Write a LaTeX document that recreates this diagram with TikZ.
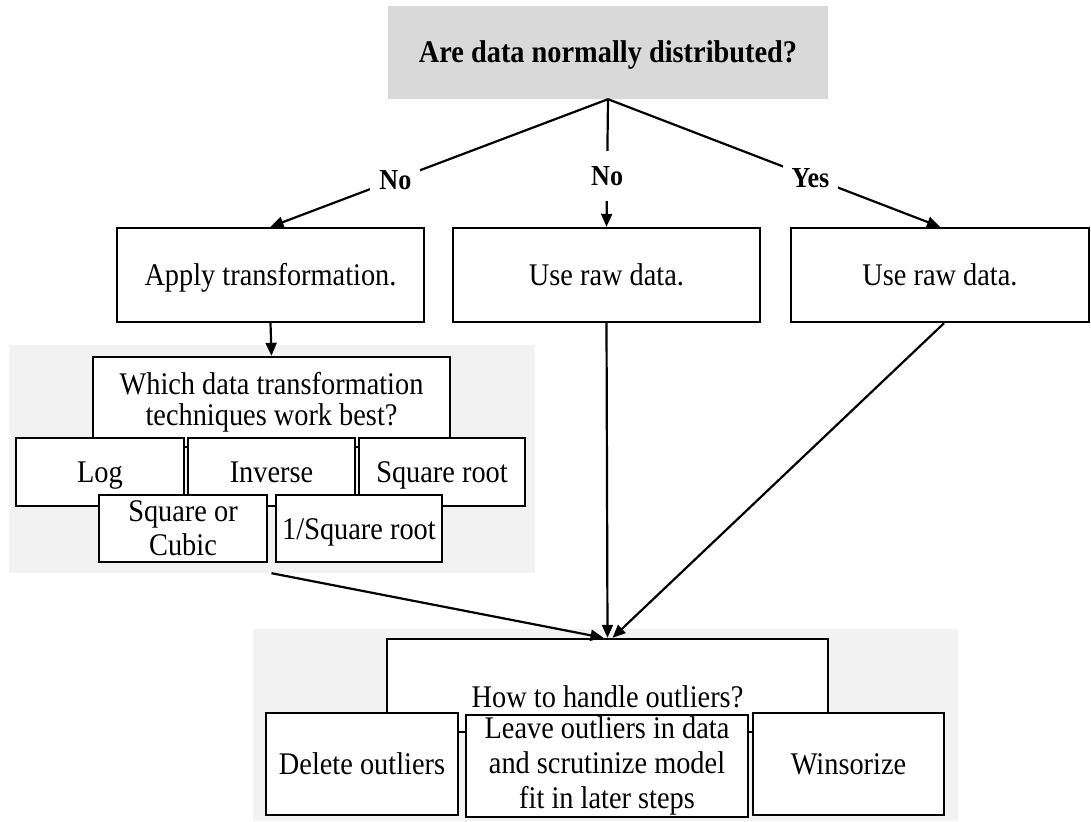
\documentclass[tikz,border=0pt]{standalone}
\usepackage{fontspec}
\setmainfont[FakeStretch=0.9]{Liberation Serif}
\usetikzlibrary{arrows.meta}
\definecolor{titlegray}{HTML}{D9D9D9}
\definecolor{panelgray}{HTML}{F2F2F2}
\begin{document}
\begin{tikzpicture}[x=1pt,y=-1pt,
  txt/.style={font=\fontsize{31.5}{34}\selectfont, align=center},
  one/.style={text height=21pt, text depth=0pt},
  box/.style={draw=black, line width=2.4pt, fill=white, inner sep=0pt, txt},
  panel/.style={fill=panelgray, draw=none, inner sep=0pt},
  lbl/.style={fill=white, inner xsep=9pt, minimum height=50pt, text height=20pt, text depth=0pt,
              font=\fontsize{29}{32}\selectfont\bfseries},
  conn/.style={line width=2.2pt, -{Triangle[length=13pt,width=11pt]}}]
\useasboundingbox (0,0) rectangle (1091,821);

% question at the top
\node[fill=titlegray, inner sep=0pt, minimum width=440pt, minimum height=93pt, one,
      font=\fontsize{31.5}{34}\selectfont\bfseries] (title) at (608,52.5) {Are data normally distributed?};

% first decisions
\node[box, one, minimum width=307pt, minimum height=94pt] (apply) at (270.5,275) {Apply transformation.};
\node[box, one, minimum width=307pt, minimum height=94pt] (rawA) at (606.5,275) {Use raw data.};
\node[box, one, minimum width=298pt, minimum height=94pt] (rawB) at (940,275) {Use raw data.};

% transformation choices
\node[panel, minimum width=526pt, minimum height=228pt] (panel1) at (272,459) {};
\node[box, minimum width=357pt, minimum height=90pt, font=\fontsize{31.5}{31}\selectfont] (which) at (271.5,402) {Which data transformation\\techniques work best?};
\node[box, one, minimum width=168pt, minimum height=68pt] (log) at (100,472) {Log};
\node[box, one, minimum width=167pt, minimum height=68pt] (inverse) at (271.5,472) {Inverse};
\node[box, one, minimum width=166pt, minimum height=68pt] (sqroot) at (442,472) {Square root};
\node[box, minimum width=168pt, minimum height=67pt] (sqcubic) at (183,528.5) {Square or\\Cubic};
\node[box, one, minimum width=166pt, minimum height=67pt] (invsqrt) at (359,528.5) {1/Square root};

% outlier handling
\node[panel, minimum width=705pt, minimum height=192pt] (panel2) at (605.5,725) {};
\node[box, minimum width=441pt, minimum height=93pt] (how) at (607.5,685.5) {};
\node[txt, one, inner sep=0pt] (howtext) at ([yshift=-11pt]how.center) {How to handle outliers?};
\node[box, one, minimum width=192pt, minimum height=102pt] (delete) at (362,764) {Delete outliers};
\node[box, minimum width=282pt, minimum height=102pt, font=\fontsize{31.5}{35}\selectfont] (leave) at (607,766) {Leave outliers in data\\and scrutinize model\\fit in later steps};
\node[box, one, minimum width=191pt, minimum height=102pt] (winsor) at (848.5,764) {Winsorize};

% connectors
\draw[conn] (title.south) -- node[lbl, pos=0.63] {No} (apply.north);
\draw[conn] (title.south) -- node[lbl, pos=0.6] {No} (rawA.north);
\draw[conn] (title.south) -- node[lbl, pos=0.61] {Yes} (rawB.north);
\draw[conn] (apply.south) -- (which.north);
\draw[conn] (panel1.south -| which.south) -- ([xshift=-4pt]how.north);
\draw[conn] (rawA.south) -- (how.north);
\draw[conn] ([xshift=4pt]rawB.south) -- ([xshift=5pt]how.north);
\end{tikzpicture}
\end{document}
